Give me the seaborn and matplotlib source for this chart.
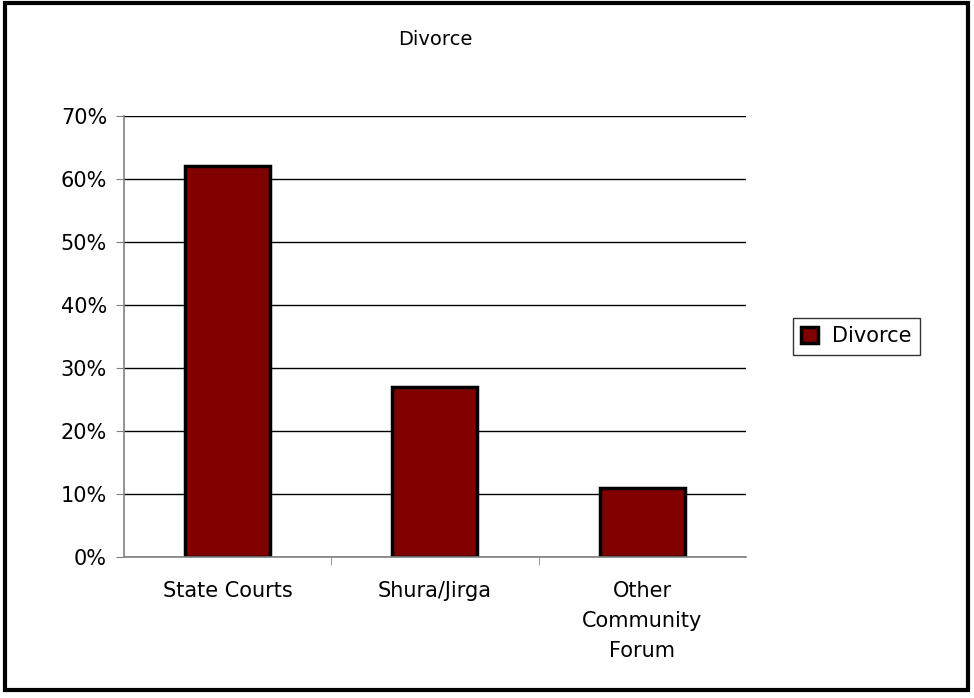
import pandas as pd
import seaborn as sns
import matplotlib.pyplot as plt
from matplotlib.patches import Rectangle
from matplotlib.ticker import PercentFormatter

# Data
forums = ["State Courts", "Shura/Jirga", "Other\nCommunity\nForum"]
divorce = [62, 27, 11]
df = pd.DataFrame({"forum": forums, "share": divorce})

sns.set_style("white")
plt.rcParams["font.family"] = ["DejaVu Sans"]
plt.rcParams["text.color"] = "black"
plt.rcParams["xtick.labelcolor"] = "black"
plt.rcParams["ytick.labelcolor"] = "black"

fig = plt.figure(figsize=(9.74, 6.98), dpi=100)
ax = fig.add_axes([0.127, 0.202, 0.639, 0.632])

sns.barplot(data=df, x="forum", y="share", color="#800000", width=0.41,
            edgecolor="black", linewidth=2.5, saturation=1, label="Divorce", ax=ax)

ax.set_ylim(0, 70)
ax.set_xlim(-0.5, 2.5)
ax.set_yticks(range(0, 71, 10))
ax.yaxis.set_major_formatter(PercentFormatter(decimals=0))
ax.yaxis.grid(True, color="black", linewidth=1)
ax.set_axisbelow(True)
ax.set_xlabel("")
ax.set_ylabel("")
ax.set_title("Divorce", fontsize=14, pad=51, color="black")

for side in ["top", "right"]:
    ax.spines[side].set_visible(False)
for side in ["left", "bottom"]:
    ax.spines[side].set_color("#808080")
    ax.spines[side].set_linewidth(1.2)

ax.tick_params(axis="y", labelsize=15, length=6, color="#808080", left=True,
               pad=6, labelcolor="black")
ax.tick_params(axis="x", labelsize=15, length=0, pad=17, labelcolor="black")
ax.set_xticks([0.5, 1.5], minor=True)
ax.tick_params(axis="x", which="minor", length=6, color="#808080", bottom=True)
for lbl in ax.get_xticklabels():
    lbl.set_linespacing(1.65)

leg = ax.legend(loc="center left", bbox_to_anchor=(1.075, 0.5), fontsize=15,
                frameon=True, fancybox=False, edgecolor="black",
                handlelength=0.8, handleheight=0.8, handletextpad=0.7,
                borderpad=0.4, borderaxespad=0)
leg.get_frame().set_linewidth(1)
for t in leg.get_texts():
    t.set_color("black")

# outer frame around the whole chart
fig.patches.append(Rectangle((0.005, 0.011), 0.989, 0.984, transform=fig.transFigure,
                             fill=False, edgecolor="black", linewidth=3))

fig.savefig("out.png", dpi=100)
